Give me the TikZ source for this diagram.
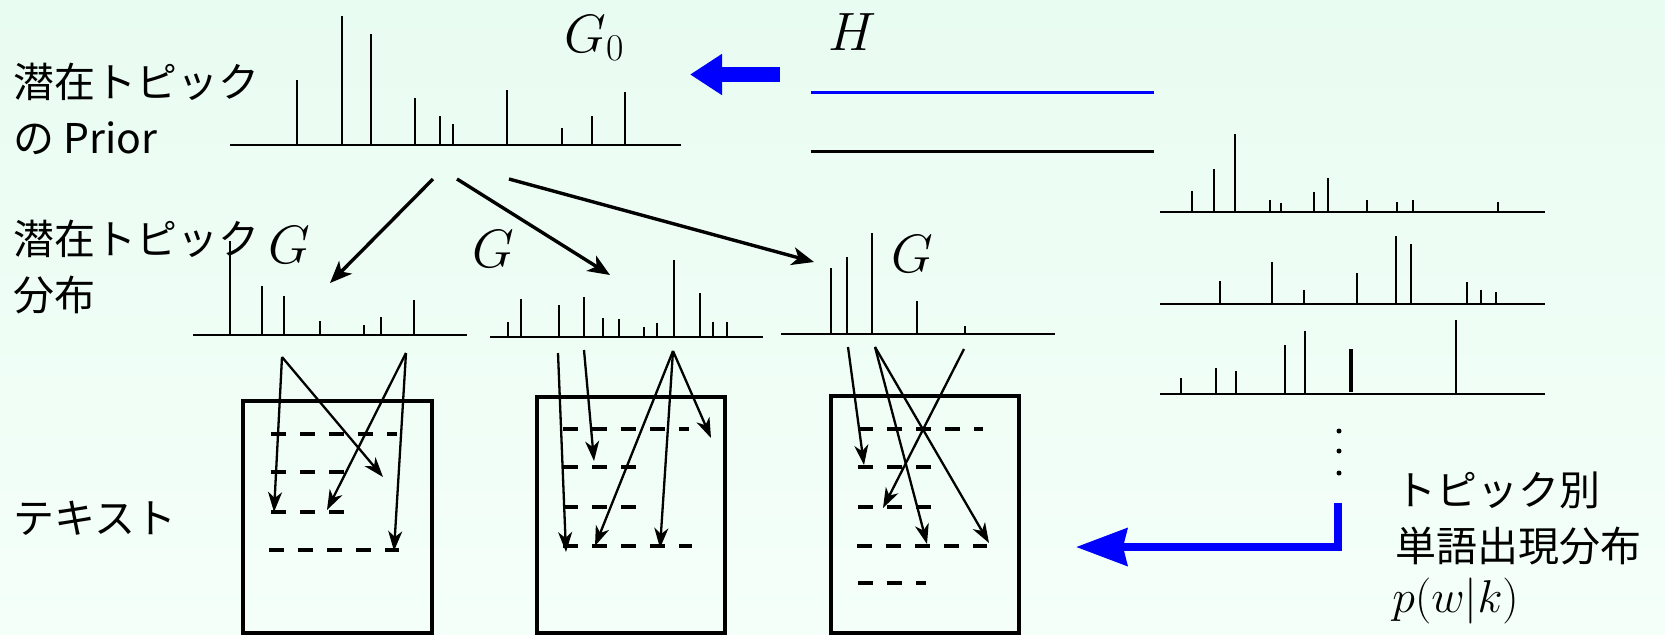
\documentclass[tikz,border=0pt]{standalone}
\usepackage{fix-cm}
\usepackage{fontspec}
\newfontfamily\jpfont{Noto Sans CJK JP}
\usepackage{tikz}
\usetikzlibrary{arrows.meta}
\definecolor{bgtop}{RGB}{233,252,241}
\definecolor{bgbot}{RGB}{244,255,249}

\begin{document}
\begin{tikzpicture}[
  x=0.5pt, y=-0.5pt,
  spike/.style={line width=1pt},
  axis/.style={line width=1.3pt},
  jtext/.style={inner sep=0pt, anchor=base west, font=\jpfont\fontsize{20.5}{28}\selectfont},
  gtext/.style={inner sep=0pt, anchor=base west, font=\fontsize{27}{27}\selectfont},
  toparr/.style={-{Stealth[length=11pt, width=9pt, inset=3pt]}, line width=1.7pt},
  wordarr/.style={-{Stealth[length=10pt, width=7pt, inset=3pt]}, line width=1.15pt},
  docbox/.style={line width=1.7pt},
  wordline/.style={line width=1.7pt, dash pattern=on 7.5pt off 7pt},
  bluearr/.style={blue, line width=4pt, -{Stealth[length=25.5pt, width=18.5pt, inset=2pt]}}
]
\path[use as bounding box] (0,0) rectangle (1665,634);
\shade[top color=bgtop, bottom color=bgbot] (0,0) rectangle (1665,634);

\node[jtext] (prior1) at (13,97) {潜在トピック};
\node[jtext] (prior2) at (13,153) {の Prior};
\node[jtext] (topic1) at (13,254) {潜在トピック};
\node[jtext] (topic2) at (13,310) {分布};
\node[jtext] (text) at (13,533) {テキスト};
\node[jtext] (word1) at (1395,505) {トピック別};
\node[jtext] (word2) at (1395,561) {単語出現分布};
\node[inner sep=0pt, anchor=base west, font=\fontsize{23}{23}\selectfont] (pwk) at (1392,612) {$p(w|k)$};

\node[gtext] (g0) at (564,52) {$G_0$};
\node[gtext] (h) at (828,50) {$H$};
\node[gtext] (ga) at (268,263) {$G$};
\node[gtext] (gb) at (472,267) {$G$};
\node[gtext] (gc) at (891,272) {$G$};

\draw[axis] (230,145) -- (681,145);
\foreach \x/\t in {297/80,341.5/16,370.5/34,415/98,440/116,453/124,507/90,561.5/128,591.5/116,625/92}
  \draw[spike] (\x,145) -- (\x,\t);

\draw[axis] (193,335) -- (467,335);
\foreach \x/\t in {230/241,262/286,284/296,320/321,364/325,381/317,414/300}
  \draw[spike] (\x,335) -- (\x,\t);
\draw[axis] (490,337) -- (763,337);
\foreach \x/\t in {508/322,521/299,559/305,584/297,603/318,619/319,644/327,657/323,674/260,700/293,713/322,727/322}
  \draw[spike] (\x,337) -- (\x,\t);
\draw[axis] (781,334) -- (1055,334);
\foreach \x/\t in {831/268,847/257,872/233,917/301,965/326}
  \draw[spike] (\x,334) -- (\x,\t);

\draw[blue, line width=1.5pt] (811,92) -- (1154,92);
\draw[line width=1.5pt] (811,151) -- (1154,151);

\foreach \b in {212,304,394}
  \draw[line width=1.4pt] (1160,\b) -- (1545,\b);
\foreach \x/\t in {1192/191,1214/169,1235/134,1270/200,1281/203,1314/192,1328/178,1367/200,1397/202,1413/200,1498/202}
  \draw[spike] (\x,212) -- (\x,\t);
\foreach \x/\t in {1220/281,1272/262,1304/290,1357/273,1396/236,1411/244,1467/282,1481/290,1496/292}
  \draw[spike] (\x,304) -- (\x,\t);
\foreach \x/\t in {1181/378,1216/368,1236/371,1285/345,1305/331,1456/320}
  \draw[spike] (\x,394) -- (\x,\t);
\draw[line width=1.6pt] (1351,392) -- (1351,349);
\foreach \y in {431,451,473} \fill (1339,\y) circle (1.25pt);

\coordinate (hsrc) at (780,74.5);
\coordinate (gdst) at (690,74.5);
\draw[blue, line width=7.5pt, -{Triangle[length=16pt, width=19.5pt]}] (hsrc) -- (gdst);
\coordinate (topics) at (1338,503);
\coordinate (docs) at (1076,547);
\draw[bluearr] (topics) |- (docs);

\foreach \n/\x/\y in {pa/433/179,pb/457/179,pc/509/179,qa/330/283,qb/610/275,qc/814/262}
  \coordinate (\n) at (\x,\y);
\foreach \a/\b in {pa/qa,pb/qb,pc/qc} \draw[toparr] (\a) -- (\b);

\draw[docbox] (243,401) rectangle (432,633);
\draw[docbox] (537,397) rectangle (725,633);
\draw[docbox] (831,396) rectangle (1019,633);
\foreach \xa/\xb/\y in {271/397/434,271/353/472,271/355/512,269/399/550,
                        563/689/429,563/646/467,563/648/507,563/692/546,
                        858/983/429,858/941/467,858/942/507,857/987/546,858/926/583}
  \draw[wordline] (\xa,\y) -- (\xb,\y);

\foreach \n/\x/\y in {k1/282/357,k2/406/353,m1/558/353,m2/584/350,m3/673/351,n1/848/347,n2/875/347,n3/964/349,
                      w1/274/512,w2/383/477,w3/327/510,w4/394/551,w5/566/552,w6/594/461,w7/595/546,
                      w8/660/548,w9/711/438,w10/864/465,w11/927/544,w12/989/543,w13/883/508}
  \coordinate (\n) at (\x,\y);
\foreach \a/\b in {k1/w1,k1/w2,k2/w3,k2/w4,m1/w5,m2/w6,m3/w7,m3/w8,m3/w9,n1/w10,n2/w11,n2/w12,n3/w13}
  \draw[wordarr] (\a) -- (\b);
\end{tikzpicture}
\end{document}
